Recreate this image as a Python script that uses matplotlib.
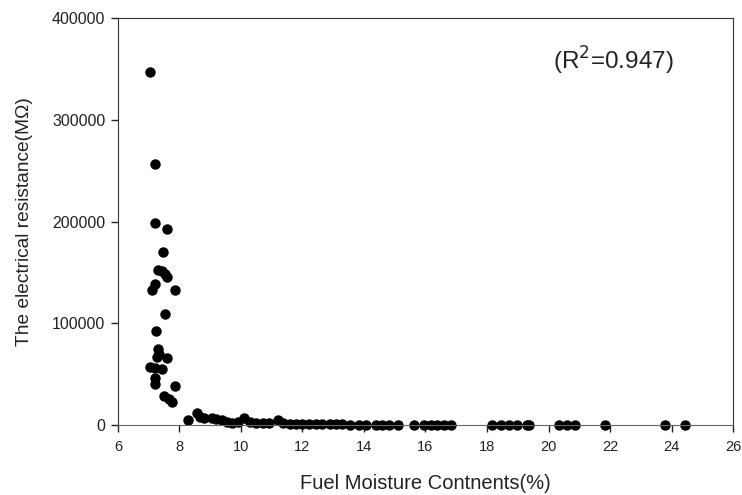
import numpy as np
import matplotlib.pyplot as plt

plt.rcParams['font.family'] = ['Liberation Sans', 'DejaVu Sans']

# fuel moisture (%) and electrical resistance (MOhm)
moist = [7.05, 7.20, 7.22, 7.58, 7.48, 7.30, 7.43, 7.52, 7.58, 7.20,
         7.10, 7.85, 7.52, 7.25, 7.30, 7.35, 7.60, 7.28, 7.05, 7.20,
         7.42, 7.20, 7.22, 7.85, 7.50, 7.65, 7.75,
         8.27, 8.56, 8.66, 8.80, 9.05, 9.20, 9.37, 9.53, 9.70, 9.90,
         10.10, 10.30, 10.50, 10.70, 10.90, 11.20, 11.35, 11.60, 11.80, 12.00,
         12.20, 12.45, 12.65, 12.90, 13.10, 13.30, 13.55, 13.85, 14.05, 14.40,
         14.60, 14.80, 15.10, 15.63, 15.95, 16.18, 16.37, 16.60, 16.83,
         18.16, 18.45, 18.70, 18.97, 19.30, 19.35, 20.33, 20.60, 20.85,
         21.85, 23.80, 24.45]
resist = [347000, 257000, 199000, 193000, 170000, 152000, 151000, 148000, 145000, 139000,
          133000, 133000, 109000, 92000, 75000, 70000, 66000, 67000, 57000, 56000,
          55000, 46000, 40000, 38000, 29000, 26000, 23000,
          5000, 12000, 8000, 7000, 7000, 6000, 5000, 3000, 2000, 3000,
          7000, 3000, 2000, 2000, 2000, 5000, 2000, 1000, 1000, 800,
          800, 600, 600, 500, 500, 500, 400, 400, 400, 300,
          300, 300, 300, 300, 300, 300, 300, 300, 300,
          200, 200, 200, 200, 200, 200, 200, 200, 200,
          200, 200, 200]

fig = plt.figure(figsize=(7.42, 4.95), dpi=100)
ax = fig.add_axes([0.159, 0.1414, 0.8289, 0.8222])

ax.plot(moist, resist, 'o', color='black', markersize=6.5, clip_on=False)

ax.set_xlim(6, 26)
ax.set_ylim(0, 400000)
ax.set_xticks(np.arange(6, 27, 2))
ax.set_yticks(np.arange(0, 400001, 100000))
ax.tick_params(direction='out', length=5, width=1, colors='#222222')
ax.tick_params(axis='y', pad=4, labelsize=11.5)
ax.tick_params(axis='x', pad=6, labelsize=10.5)
for s in ax.spines.values():
    s.set_color('#333333')
ax.spines['bottom'].set_color('#666666')

ax.set_xlabel('Fuel Moisture Contnents(%)', fontsize=14.5, color='#222222', labelpad=14)
ax.set_ylabel('The electrical resistance(M\u03a9)', fontsize=13.8, color='#222222', labelpad=14)

ax.text(20.15, 358000, '(R$^2$=0.947)', fontsize=17.5, color='#222222', va='center')

fig.savefig('out.png', dpi=100)
